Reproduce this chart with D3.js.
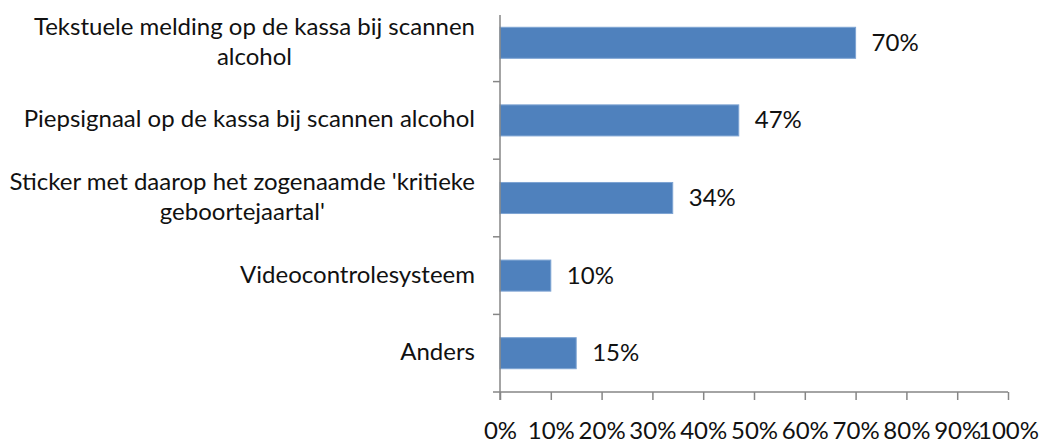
<!DOCTYPE html>
<html>
<head>
<meta charset="utf-8">
<script src="https://cdn.jsdelivr.net/npm/d3@7"></script>
<style>
  body { margin: 0; background: #fff; }
  svg text { font-family: Lato, "Open Sans", sans-serif; fill: #111; }
</style>
</head>
<body>
<div id="chart"></div>
<script>
// category labels (\n = line break as in the original)
var categories = [
    "Tekstuele melding op de kassa bij scannen\nalcohol",
    "Piepsignaal op de kassa bij scannen alcohol",
    "Sticker met daarop het zogenaamde 'kritieke\ngeboortejaartal'",
    "Videocontrolesysteem",
    "Anders"
];
var values = [70, 47, 34, 10, 15];
var tickValues = [0, 10, 20, 30, 40, 50, 60, 70, 80, 90, 100];

var svgWidth = 1040;
var svgHeight = 443;
var fontSize = 24;
var lineHeight = 29.5;

var svg = d3.select("#chart")
    .append("svg")
    .attr("width", svgWidth)
    .attr("height", svgHeight);

// plot area
var plotLeft = 500, plotRight = 1008, plotTop = 4, plotBottom = 392;

var x = d3.scaleLinear()
    .domain([0, 100])
    .range([plotLeft, plotRight]);

var y = d3.scaleBand()
    .domain(categories)
    .range([plotTop, plotBottom])
    .paddingInner(0)
    .paddingOuter(0);

var barH = y.bandwidth() / 2.5;

// bars
svg.selectAll("rect.bar")
    .data(values)
    .enter()
    .append("rect")
    .attr("class", "bar")
    .attr("x", x(0))
    .attr("y", (d, i) => y(categories[i]) + (y.bandwidth() - barH) / 2)
    .attr("width", d => x(d) - x(0))
    .attr("height", barH)
    .attr("fill", "#4f81bd")
    .attr("stroke", "#7ea4d3")
    .attr("stroke-width", 1);

// value labels
svg.selectAll("text.value")
    .data(values)
    .enter()
    .append("text")
    .attr("class", "value")
    .attr("x", d => x(d) + 16)
    .attr("y", (d, i) => y(categories[i]) + y.bandwidth() / 2 + 8)
    .attr("font-size", fontSize)
    .text(d => d + "%");

// x axis
var xAxis = d3.axisBottom(x)
    .tickValues(tickValues)
    .tickSize(8)
    .tickPadding(22)
    .tickFormat(d => d + "%");

var gx = svg.append("g")
    .attr("transform", `translate(0, ${plotBottom})`)
    .call(xAxis);
gx.select(".domain").attr("stroke", "#868686").attr("stroke-width", 1.5)
    .attr("d", `M${plotLeft - 7},0H${plotRight}`);
gx.selectAll(".tick line").attr("stroke", "#868686").attr("stroke-width", 1.5);
gx.selectAll(".tick text")
    .attr("font-size", fontSize)
    .attr("font-family", null)
    .attr("fill", "#111");

// y axis line and category separators
svg.append("line")
    .attr("x1", plotLeft).attr("x2", plotLeft)
    .attr("y1", 15).attr("y2", plotBottom + 8)
    .attr("stroke", "#868686")
    .attr("stroke-width", 1.5);

svg.selectAll("line.sep")
    .data(categories.slice(1))
    .enter()
    .append("line")
    .attr("class", "sep")
    .attr("x1", plotLeft - 7).attr("x2", plotLeft)
    .attr("y1", d => y(d)).attr("y2", d => y(d))
    .attr("stroke", "#868686")
    .attr("stroke-width", 1.5);

// category labels: lines centred, block right-aligned
categories.forEach(function(c) {
    var lines = c.split("\n");
    var g = svg.append("g");
    var cy = y(c) + y.bandwidth() / 2;
    var t = g.selectAll("text")
        .data(lines)
        .enter()
        .append("text")
        .attr("font-size", fontSize)
        .attr("text-anchor", "middle")
        .attr("y", (d, i) => cy + (i - (lines.length - 1) / 2) * lineHeight + 7)
        .text(d => d);
    var maxW = 0;
    t.each(function() { maxW = Math.max(maxW, this.getComputedTextLength()); });
    t.attr("x", 475 - maxW / 2);
});
</script>
</body>
</html>
